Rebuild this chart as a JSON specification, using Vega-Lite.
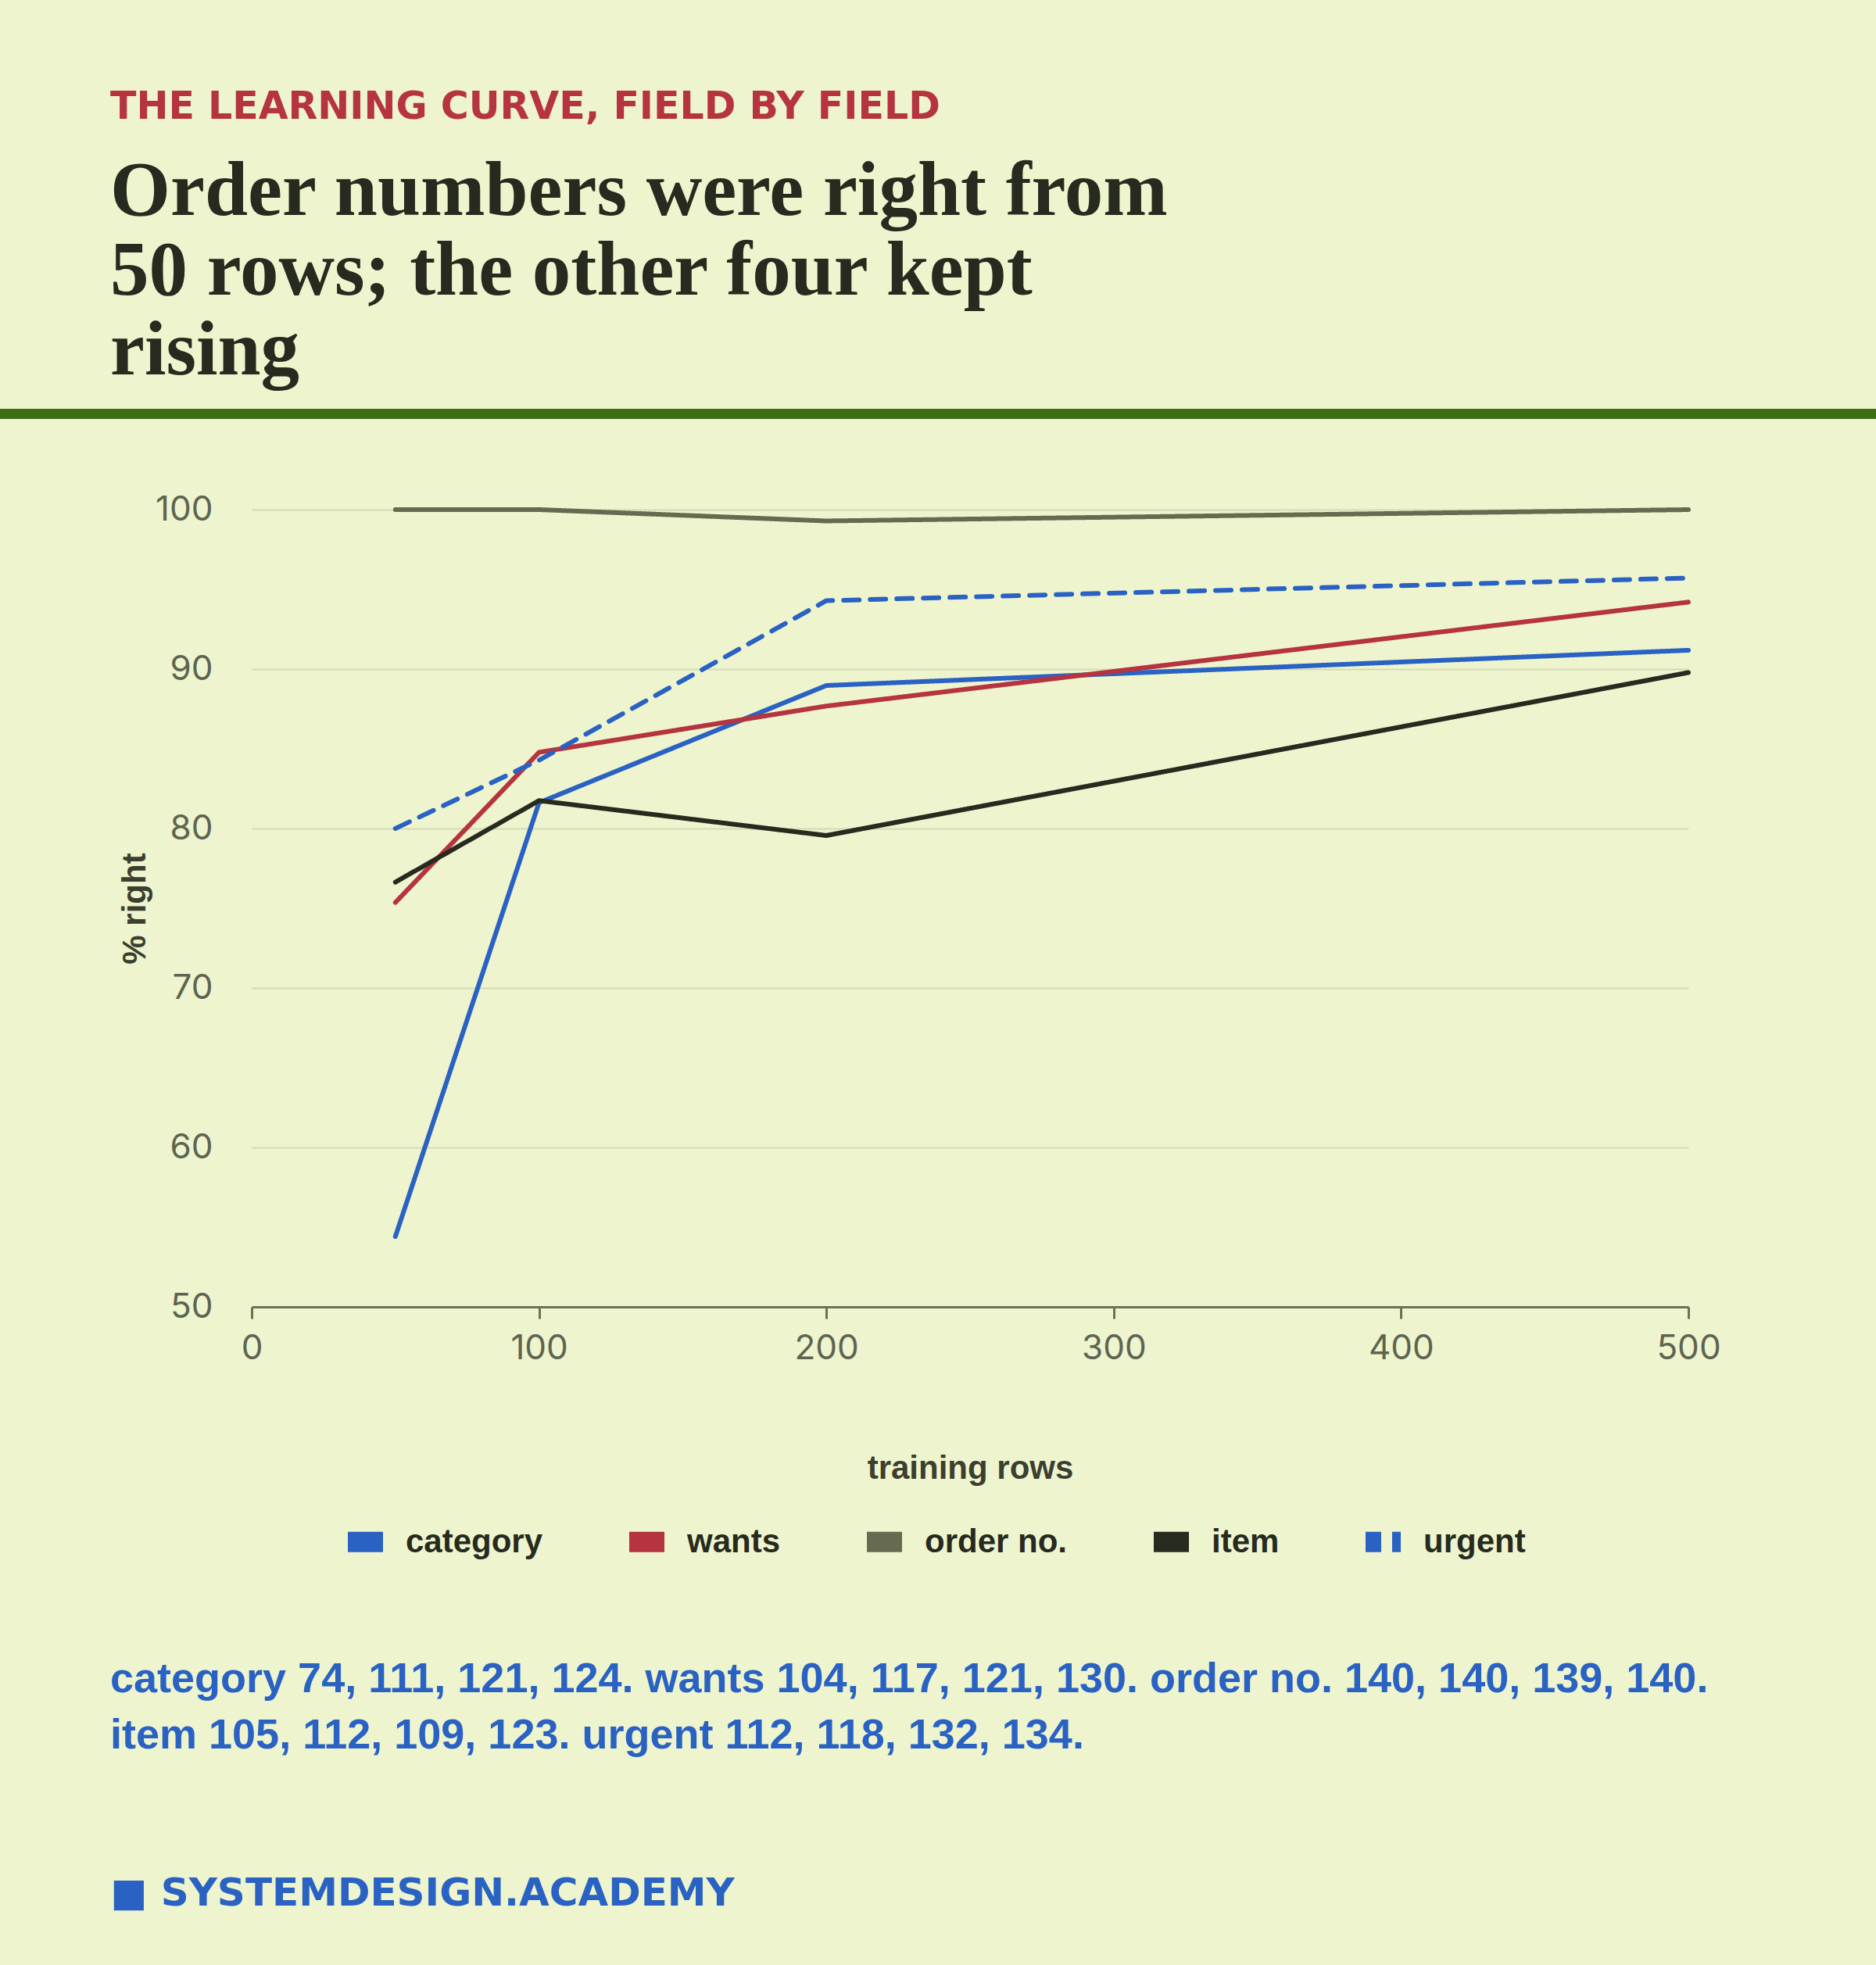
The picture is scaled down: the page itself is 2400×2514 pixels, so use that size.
{
  "$schema": "https://vega.github.io/schema/vega-lite/v6.json",
  "background": "#eef5ce",
  "padding": {"left": 0, "right": 0, "top": 113, "bottom": 105},
  "columns": 1,
  "spacing": 94,
  "config": {
    "view": {"stroke": null},
    "font": "Inter",
    "legend": {
      "orient": "none",
      "legendX": 110,
      "legendY": 1285,
      "direction": "horizontal",
      "symbolType": "stroke",
      "symbolStrokeWidth": 26,
      "symbolSize": 2025,
      "labelFont": "Liberation Sans",
      "labelFontSize": 42,
      "labelFontWeight": "bold",
      "labelColor": "#272a1e",
      "labelLimit": 500,
      "labelOffset": 16,
      "columnPadding": 58
    }
  },
  "concat": [
    {
      "width": 2400,
      "height": 13,
      "view": {"fill": "#3f6d14", "stroke": null},
      "data": {"values": []},
      "mark": "rule",
      "encoding": {},
      "title": {
        "text": "THE LEARNING CURVE, FIELD BY FIELD",
        "subtitle": ["Order numbers were right from", "50 rows; the other four kept", "rising"],
        "anchor": "start",
        "frame": "group",
        "dx": 141,
        "offset": 24,
        "font": "DejaVu Sans",
        "fontSize": 49,
        "fontWeight": "bold",
        "color": "#b5343f",
        "subtitleFont": "Liberation Serif",
        "subtitleFontSize": 99,
        "subtitleFontWeight": "bold",
        "subtitleColor": "#272a1e",
        "subtitleLineHeight": 102,
        "subtitlePadding": 35
      }
    },
    {
      "spacing": 0,
      "resolve": {"scale": {"color": "independent", "strokeDash": "independent"}},
      "title": {
        "text": ["category 74, 111, 121, 124. wants 104, 117, 121, 130. order no. 140, 140, 139, 140.", "item 105, 112, 109, 123. urgent 112, 118, 132, 134."],
        "orient": "bottom",
        "anchor": "start",
        "frame": "group",
        "dx": 141,
        "offset": 97,
        "font": "Liberation Sans",
        "fontSize": 54,
        "fontWeight": "bold",
        "color": "#2a62c4",
        "lineHeight": 72,
        "subtitle": "■ SYSTEMDESIGN.ACADEMY",
        "subtitleFont": "DejaVu Sans",
        "subtitleFontSize": 50,
        "subtitleFontWeight": "bold",
        "subtitleColor": "#2a62c4",
        "subtitlePadding": 150
      },
      "hconcat": [
        {
          "width": 151,
          "height": 1020,
          "data": {"values": []},
          "mark": "rule",
          "encoding": {}
        },
        {
          "width": 1838,
          "height": 1020,
          "data": {
            "values": [
              {"field": "category", "rows": 50, "pct": 54.41},
              {"field": "category", "rows": 100, "pct": 81.62},
              {"field": "category", "rows": 200, "pct": 88.97},
              {"field": "category", "rows": 500, "pct": 91.18},
              {"field": "wants", "rows": 50, "pct": 75.36},
              {"field": "wants", "rows": 100, "pct": 84.78},
              {"field": "wants", "rows": 200, "pct": 87.68},
              {"field": "wants", "rows": 500, "pct": 94.2},
              {"field": "order no.", "rows": 50, "pct": 100},
              {"field": "order no.", "rows": 100, "pct": 100},
              {"field": "order no.", "rows": 200, "pct": 99.29},
              {"field": "order no.", "rows": 500, "pct": 100},
              {"field": "item", "rows": 50, "pct": 76.64},
              {"field": "item", "rows": 100, "pct": 81.75},
              {"field": "item", "rows": 200, "pct": 79.56},
              {"field": "item", "rows": 500, "pct": 89.78},
              {"field": "urgent", "rows": 50, "pct": 80.0},
              {"field": "urgent", "rows": 100, "pct": 84.29},
              {"field": "urgent", "rows": 200, "pct": 94.29},
              {"field": "urgent", "rows": 500, "pct": 95.71}
            ]
          },
          "mark": {"type": "line", "strokeWidth": 6, "strokeCap": "round", "strokeJoin": "round"},
          "encoding": {
            "x": {
              "field": "rows",
              "type": "quantitative",
              "scale": {"domain": [0, 500]},
              "axis": {
                "values": [0, 100, 200, 300, 400, 500],
                "title": "training rows",
                "grid": false,
                "domainColor": "#6b705a",
                "domainWidth": 3,
                "tickColor": "#6b705a",
                "tickWidth": 3,
                "tickSize": 15,
                "labelFontSize": 44,
                "labelColor": "#5f6450",
                "labelPadding": 16,
                "labelFlush": false,
                "titleFont": "Liberation Sans",
                "titleFontSize": 42,
                "titleFontWeight": "bold",
                "titleColor": "#3b3f2f",
                "titlePadding": 111
              }
            },
            "y": {
              "field": "pct",
              "type": "quantitative",
              "scale": {"domain": [50, 100]},
              "axis": {
                "values": [50, 60, 70, 80, 90, 100],
                "title": "% right",
                "domain": false,
                "ticks": false,
                "grid": true,
                "gridColor": "#d3dab4",
                "gridWidth": 2,
                "labelFontSize": 44,
                "labelColor": "#5f6450",
                "labelPadding": 50,
                "titleFont": "Liberation Sans",
                "titleFontSize": 42,
                "titleFontWeight": "bold",
                "titleColor": "#3b3f2f",
                "titlePadding": 4
              }
            },
            "color": {
              "field": "field",
              "type": "nominal",
              "title": null,
              "scale": {
                "domain": ["category", "wants", "order no.", "item", "urgent"],
                "range": ["#2a62c4", "#b5343f", "#666b50", "#272a1e", "#2a62c4"]
              }
            },
            "strokeDash": {
              "field": "field",
              "type": "nominal",
              "title": null,
              "scale": {
                "domain": ["category", "wants", "order no.", "item", "urgent"],
                "range": [[1, 0], [1, 0], [1, 0], [1, 0], [20, 14]]
              }
            }
          }
        }
      ]
    }
  ]
}
